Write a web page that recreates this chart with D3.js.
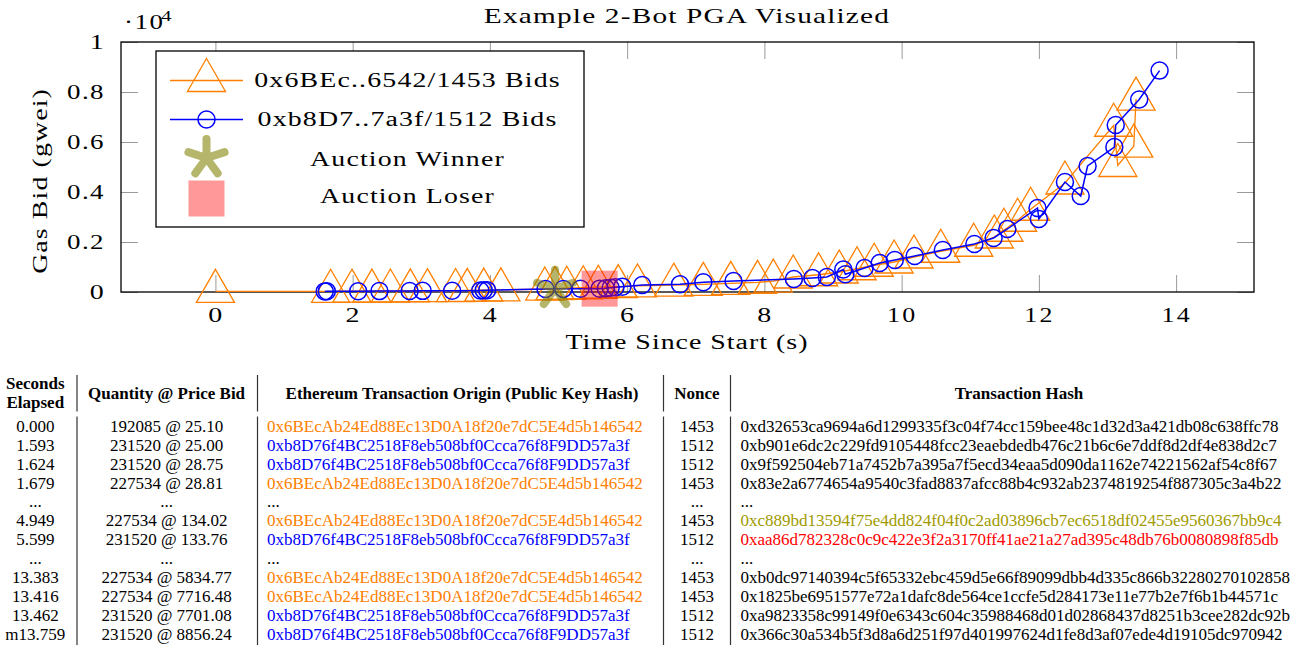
<!DOCTYPE html>
<html>
<head>
<meta charset="utf-8">
<script src="https://cdn.jsdelivr.net/npm/d3@7"></script>
<style>
  body { margin: 0; background: #fff; }
  svg { display: block; font-family: 'Liberation Serif', 'Times New Roman', serif; }
</style>
</head>
<body>
<svg id="chart" width="1304" height="645"></svg>
<script>
// ------------------------------- DATA below ----------------------------------------------

const chartTitle = 'Example 2-Bot PGA Visualized';
const xLabel = 'Time Since Start (s)';
const yLabel = 'Gas Bid (gwei)';

// Bot 0x6BEc..6542 (triangles) - seconds elapsed / gas bid in gwei
const orangeTimes = [0, 1.679, 1.99, 2.28, 2.55, 2.84, 3.09, 3.5, 3.67, 3.91, 4.16, 4.8, 4.949, 5.12,
  5.36, 5.58, 5.87, 6.15, 6.68, 7.11, 7.51, 7.9, 8.13, 8.42, 8.79, 9.09, 9.35, 9.6, 9.89, 10.18,
  10.57, 11.05, 11.35, 11.49, 11.69, 11.88, 12.38, 13.09, 13.15, 13.383, 13.416];
const orangeBids = [25.1, 28.81, 32.4, 36.5, 41, 46.2, 52, 58.5, 65.8, 74, 83.3, 119, 134.02, 150.8,
  170, 191, 215, 242, 272, 306, 344, 387, 436, 600, 690, 800, 930, 1070, 1200, 1400,
  1630, 1870, 2200, 2470, 2870, 3310, 4360, 6670, 5060, 5834.77, 7716.48];

// Bot 0xb8D7..7a3f (circles)
const blueTimes = [1.593, 1.624, 2.08, 2.39, 2.83, 3.02, 3.45, 3.86, 3.91, 3.96, 4.81, 5.07, 5.32,
  5.599, 5.69, 5.76, 5.83, 5.93, 6.22, 6.77, 7.11, 7.55, 8.43, 8.7, 8.91, 9.15, 9.18, 9.46, 9.68,
  9.9, 10.19, 10.6, 11.06, 11.34, 11.54, 11.98, 12.0, 12.38, 12.61, 12.71, 13.1, 13.12, 13.462, 13.759];
const blueBids = [25, 28.75, 32.4, 36.5, 41, 46.2, 52, 58.5, 65.8, 74, 119, 125, 129,
  133.76, 150, 169, 190, 214, 280, 310, 390, 440, 520, 560, 600, 900, 710, 960, 1160,
  1280, 1440, 1680, 1920, 2160, 2520, 3360, 2920, 4400, 3840, 5040, 5800, 6680, 7701.08, 8856.24];

const winnerBid = [4.949, 134.02];
const loserBid = [5.599, 133.76];

const xTicks = [0, 2, 4, 6, 8, 10, 12, 14];
const yTicks = [0, 2000, 4000, 6000, 8000, 10000];
const yTickLabels = ['0', '0.2', '0.4', '0.6', '0.8', '1'];

const legendLabels = ['0x6BEc..6542/1453 Bids', '0xb8D7..7a3f/1512 Bids', 'Auction Winner', 'Auction Loser'];

// Table
const botA = '0x6BEcAb24Ed88Ec13D0A18f20e7dC5E4d5b146542';
const botB = '0xb8D76f4BC2518F8eb508bf0Ccca76f8F9DD57a3f';
const tableHeaders = [['Seconds', 'Elapsed'], ['Quantity @ Price Bid'],
  ['Ethereum Transaction Origin (Public Key Hash)'], ['Nonce'], ['Transaction Hash']];
const secondsCol = ['0.000', '1.593', '1.624', '1.679', '...', '4.949', '5.599', '...', '13.383', '13.416', '13.462', 'm13.759'];
const quantityCol = ['192085 @ 25.10', '231520 @ 25.00', '231520 @ 28.75', '227534 @ 28.81', '...',
  '227534 @ 134.02', '231520 @ 133.76', '...', '227534 @ 5834.77', '227534 @ 7716.48',
  '231520 @ 7701.08', '231520 @ 8856.24'];
const originCol = [botA, botB, botB, botA, '...', botA, botB, '...', botA, botA, botB, botB];
const nonceCol = ['1453', '1512', '1512', '1453', '...', '1453', '1512', '...', '1453', '1453', '1512', '1512'];
const hashCol = [
  '0xd32653ca9694a6d1299335f3c04f74cc159bee48c1d32d3a421db08c638ffc78',
  '0xb901e6dc2c229fd9105448fcc23eaebdedb476c21b6c6e7ddf8d2df4e838d2c7',
  '0x9f592504eb71a7452b7a395a7f5ecd34eaa5d090da1162e74221562af54c8f67',
  '0x83e2a6774654a9540c3fad8837afcc88b4c932ab2374819254f887305c3a4b22',
  '...',
  '0xc889bd13594f75e4dd824f04f0c2ad03896cb7ec6518df02455e9560367bb9c4',
  '0xaa86d782328c0c9c422e3f2a3170ff41ae21a27ad395c48db76b0080898f85db',
  '...',
  '0xb0dc97140394c5f65332ebc459d5e66f89099dbb4d335c866b32280270102858',
  '0x1825be6951577e72a1dafc8de564ce1ccfe5d284173e11e77b2e7f6b1b44571c',
  '0xa9823358c99149f0e6343c604c35988468d01d02868437d8251b3cee282dc92b',
  '0x366c30a534b5f3d8a6d251f97d401997624d1fe8d3af07ede4d19105dc970942'];
const hashOutcome = ['', '', '', '', '', 'winner', 'loser', '', '', '', '', ''];

// ------------------------------- SETUP below ----------------------------------------------

const ORANGE = '#ff8000';
const BLUE = '#0000ff';
const OLIVE = '#808000';
const STRETCH = 1.52; // the plot text is set wide, like the original
const GLYPH = 1.4; // part of the widening that goes into the glyphs, the rest is spacing

const svg = d3.select('#chart');

// widen text along its own direction
function widen(sel, k) {
  sel.each(function () {
    const el = d3.select(this);
    const len = this.getComputedTextLength();
    const n = Math.max(this.getNumberOfChars() - 1, 1);
    el.attr('letter-spacing', ((len * k) / GLYPH - len) / n);
    el.attr('textLength', len * k).attr('lengthAdjust', 'spacingAndGlyphs');
  });
}

const orangeData = orangeTimes.map((t, i) => ({ t, v: orangeBids[i] }));
const blueData = blueTimes.map((t, i) => ({ t, v: blueBids[i] }));

// pgfplots-like 10% enlargement of the x limits
const tExtent = d3.extent(orangeTimes.concat(blueTimes));
const pad = (tExtent[1] - tExtent[0]) * 0.1;

const x = d3.scaleLinear().domain([tExtent[0] - pad, tExtent[1] + pad]).range([121, 1254]);
const y = d3.scaleLinear().domain([0, 10000]).range([292, 42]);

// ------------------------------- AXES below ----------------------------------------------

const axes = svg.append('g');

const xAxisBottom = axes.append('g')
  .attr('transform', `translate(0,${y(0)})`)
  .call(d3.axisBottom(x).tickValues(xTicks).tickSize(-17).tickFormat(d3.format('d')));

const xAxisTop = axes.append('g')
  .attr('transform', `translate(0,${y(10000)})`)
  .call(d3.axisTop(x).tickValues(xTicks).tickSize(-17).tickFormat(''));

const yAxisLeft = axes.append('g')
  .attr('transform', `translate(${x.range()[0]},0)`)
  .call(d3.axisLeft(y).tickValues(yTicks).tickSize(-17).tickFormat((d, i) => yTickLabels[i]));

const yAxisRight = axes.append('g')
  .attr('transform', `translate(${x.range()[1]},0)`)
  .call(d3.axisRight(y).tickValues(yTicks).tickSize(-17).tickFormat(''));

axes.selectAll('.domain').remove();
axes.selectAll('.tick line').attr('stroke', '#9a9a9a').attr('stroke-width', 1);
axes.selectAll('.tick text')
  .attr('font-family', "'Liberation Serif', serif")
  .attr('font-size', 20)
  .attr('fill', '#000');

// bottom labels sit below the frame, left labels right-aligned at 105
xAxisBottom.selectAll('.tick text').attr('y', 30).attr('dy', 0);
yAxisLeft.selectAll('.tick text').attr('x', -16);
widen(xAxisBottom.selectAll('.tick text'), STRETCH);
widen(yAxisLeft.selectAll('.tick text'), STRETCH);

// frame
svg.append('rect')
  .attr('x', x.range()[0])
  .attr('y', y(10000))
  .attr('width', x.range()[1] - x.range()[0])
  .attr('height', y(0) - y(10000))
  .attr('fill', 'none')
  .attr('stroke', '#000')
  .attr('stroke-width', 1.3);

// ------------------------------- TEXTS below ----------------------------------------------

const title = svg.append('text')
  .attr('x', 687).attr('y', 22.5)
  .attr('text-anchor', 'middle')
  .attr('font-size', 21)
  .text(chartTitle);
widen(title, STRETCH);

const xl = svg.append('text')
  .attr('x', 687).attr('y', 348.5)
  .attr('text-anchor', 'middle')
  .attr('font-size', 20)
  .text(xLabel);
widen(xl, STRETCH);

const yl = svg.append('text')
  .attr('transform', 'translate(46.5,181) rotate(-90)')
  .attr('text-anchor', 'middle')
  .attr('font-size', 20)
  .text(yLabel);
widen(yl, STRETCH);

// scale note ·10^4
const note = svg.append('text').attr('x', 124).attr('y', 28.5).attr('font-size', 20).text('\u00b710');
widen(note, STRETCH);
const sup = svg.append('text').attr('x', 161).attr('y', 20.5).attr('font-size', 15).text('4');
widen(sup, STRETCH);

// ------------------------------- SERIES below ----------------------------------------------

const line = d3.line().x((d) => x(d.t)).y((d) => y(d.v));
const triangle = d3.symbol().type(d3.symbolTriangle).size(629);

const plot = svg.append('g');

plot.append('path')
  .datum(orangeData)
  .attr('d', line)
  .attr('fill', 'none')
  .attr('stroke', ORANGE)
  .attr('stroke-width', 1.3);

plot.selectAll('path.tri')
  .data(orangeData)
  .join('path')
  .attr('class', 'tri')
  .attr('transform', (d) => `translate(${x(d.t)},${y(d.v)})`)
  .attr('d', triangle)
  .attr('fill', 'none')
  .attr('stroke', ORANGE)
  .attr('stroke-width', 1.3);

plot.append('path')
  .datum(blueData)
  .attr('d', line)
  .attr('fill', 'none')
  .attr('stroke', BLUE)
  .attr('stroke-width', 1.5);

plot.selectAll('circle')
  .data(blueData)
  .join('circle')
  .attr('cx', (d) => x(d.t))
  .attr('cy', (d) => y(d.v))
  .attr('r', 8.5)
  .attr('fill', 'none')
  .attr('stroke', BLUE)
  .attr('stroke-width', 1.5);

// five armed asterisk for the winner
function starPath(len) {
  return d3.range(5).map((k) => {
    const a = -Math.PI / 2 + (k * 2 * Math.PI) / 5;
    return `M0,0L${len * Math.cos(a)},${len * Math.sin(a)}`;
  }).join('');
}

function drawStar(g, cx, cy) {
  g.append('path')
    .attr('transform', `translate(${cx},${cy})`)
    .attr('d', starPath(19))
    .attr('fill', 'none')
    .attr('stroke', OLIVE)
    .attr('stroke-opacity', 0.58)
    .attr('stroke-width', 8)
    .attr('stroke-linecap', 'round');
}

function drawLoser(g, cx, cy) {
  g.append('rect')
    .attr('x', cx - 18).attr('y', cy - 18)
    .attr('width', 36).attr('height', 36)
    .attr('fill', '#ff0000')
    .attr('fill-opacity', 0.4);
}

drawStar(plot, x(winnerBid[0]), y(winnerBid[1]));
drawLoser(plot, x(loserBid[0]), y(loserBid[1]));

// ------------------------------- LEGEND below ----------------------------------------------

const legend = svg.append('g');
legend.append('rect')
  .attr('x', 156).attr('y', 51)
  .attr('width', 428).attr('height', 176)
  .attr('fill', '#fff')
  .attr('stroke', '#000')
  .attr('stroke-width', 1.3);

const rowY = [80.5, 119.5, 158, 198.5];
const textY = [86.8, 126, 166, 203.3];

legend.append('line').attr('x1', 170).attr('x2', 243).attr('y1', rowY[0]).attr('y2', rowY[0])
  .attr('stroke', ORANGE).attr('stroke-width', 1.3);
legend.append('path').attr('transform', `translate(206.5,${rowY[0]})`).attr('d', triangle)
  .attr('fill', 'none').attr('stroke', ORANGE).attr('stroke-width', 1.3);

legend.append('line').attr('x1', 170).attr('x2', 243).attr('y1', rowY[1]).attr('y2', rowY[1])
  .attr('stroke', BLUE).attr('stroke-width', 1.5);
legend.append('circle').attr('cx', 206.5).attr('cy', rowY[1]).attr('r', 8.5)
  .attr('fill', 'none').attr('stroke', BLUE).attr('stroke-width', 1.5);

drawStar(legend, 206.5, rowY[2]);
drawLoser(legend, 206.5, rowY[3]);

const legendText = legend.selectAll('text')
  .data(legendLabels)
  .join('text')
  .attr('x', 407.5)
  .attr('y', (d, i) => textY[i])
  .attr('text-anchor', 'middle')
  .attr('font-size', 20)
  .text((d) => d);
widen(legendText, STRETCH);

// ------------------------------- TABLE below ----------------------------------------------

const table = svg.append('g').attr('font-size', 17);
const rowBase = (i) => 431.7 + i * 18.94;

const headerX = [35.3, 166.6, 462, 697, 1019];
tableHeaders.forEach((lines, c) => {
  lines.forEach((txt, j) => {
    table.append('text')
      .attr('x', headerX[c])
      .attr('y', lines.length === 2 ? 388.5 + j * 19 : 398.5)
      .attr('text-anchor', 'middle')
      .attr('font-weight', 'bold')
      .text(txt);
  });
});

[77, 257.5, 663.5, 730.5].forEach((sx) => {
  table.append('line').attr('x1', sx).attr('x2', sx).attr('y1', 375).attr('y2', 411.5)
    .attr('stroke', '#333').attr('stroke-width', 1.2);
  table.append('line').attr('x1', sx).attr('x2', sx).attr('y1', 416.5).attr('y2', 645)
    .attr('stroke', '#333').attr('stroke-width', 1.2);
});

function column(values, xPos, anchor, colour) {
  table.append('g')
    .selectAll('text')
    .data(values)
    .join('text')
    .attr('x', xPos)
    .attr('y', (d, i) => rowBase(i))
    .attr('text-anchor', anchor)
    .attr('fill', colour)
    .text((d) => d);
}

const outcomeColour = { winner: '#a09a00', loser: '#ff0000', '': '#000' };

column(secondsCol, 35.3, 'middle', '#000');
column(quantityCol, 166.6, 'middle', '#000');
column(originCol, 267, 'start', (d) => (d === botA ? ORANGE : d === botB ? BLUE : '#000'));
column(nonceCol, 697, 'middle', '#000');
column(hashCol, 740.5, 'start', (d, i) => outcomeColour[hashOutcome[i]]);
</script>
</body>
</html>
